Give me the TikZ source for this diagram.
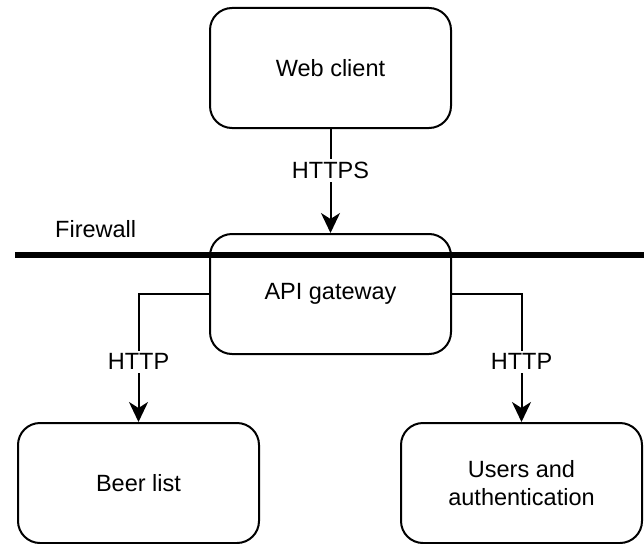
\documentclass[tikz,border=0pt]{standalone}
\usepackage{fontspec}
\setmainfont{Liberation Sans}
\usetikzlibrary{arrows.meta}
\begin{document}
\begin{tikzpicture}[x=1pt,y=-1pt,
  every node/.style={font=\fontsize{23.5}{28}\selectfont, inner sep=0pt},
  box/.style={draw, line width=2pt, rounded corners=22pt,
    minimum width=241pt, minimum height=120pt, align=center},
  arr/.style={line width=2pt, -{Stealth[length=20pt,width=19pt,inset=6pt]}},
  lbl/.style={fill=white, inner sep=3pt}]
  \useasboundingbox (0,0) rectangle (644,543);

  % services
  \node[box] (web)   at (330.5,68)  {Web client};
  \node[box] (api)   at (330.5,294) {API gateway};
  \node[box] (beer)  at (138.5,483) {Beer list};
  \node[box] (users) at (521.5,483) {Users and\\authentication};

  % firewall
  \coordinate (fwL) at (15,255);
  \coordinate (fwR) at (644,255);
  \draw[line width=6pt] (fwL) -- (fwR);
  \node[anchor=west] (fwlabel) at (55,229) {Firewall};

  % connections
  \draw[arr] (web) -- node[lbl, pos=0.4] {HTTPS} (api);
  \draw[arr] (api.west) -| node[lbl, pos=0.765] {HTTP} (beer.north);
  \draw[arr] (api.east) -| node[lbl, pos=0.765] {HTTP} (users.north);
\end{tikzpicture}
\end{document}
